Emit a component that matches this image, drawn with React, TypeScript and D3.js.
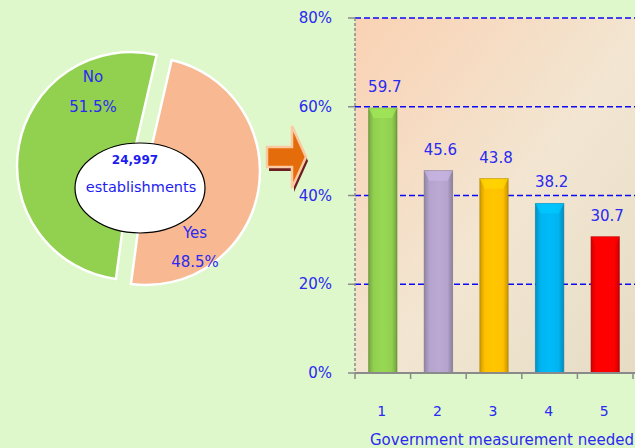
import { useEffect, useRef } from "react";
import * as d3 from "d3";

const pieLabels = ["Yes", "No"];
const pieValues = [48.5, 51.5];
const pieColors = ["#f8b892", "#92d050"];
const totalLabel = "24,997";
const totalUnit = "establishments";

const categories = ["1", "2", "3", "4", "5"];
const values = [59.7, 45.6, 43.8, 38.2, 30.7];
const barColors = ["#92d050", "#b4a3cc", "#ffc000", "#00b4f0", "#ff0000"];
const yTicks = [0, 20, 40, 60, 80];
const xTitle = "Government measurement needed";

const W = 635;
const H = 448;
const FONT = "'DejaVu Sans', Tahoma, sans-serif";
const BLUE = "#2a2af0";

export default function App() {
  const ref = useRef<SVGSVGElement>(null);

  useEffect(() => {
    const svg = d3.select(ref.current);
    svg.selectAll("*").remove();

    svg.append("rect").attr("width", W).attr("height", H).attr("fill", "#def7cb");

    const defs = svg.append("defs");

    // ---------- pie ----------
    const r = 114;
    const base = { x: 140, y: 168.5 };
    const explode = [
      { dx: 6, dy: 2.5 },
      { dx: -9, dy: -2.5 },
    ];
    const startA = (13 * Math.PI) / 180;
    const pie = d3
      .pie<number>()
      .sort(null)
      .startAngle(startA)
      .endAngle(startA + 2 * Math.PI);
    const arc = d3.arc<d3.PieArcDatum<number>>().innerRadius(0).outerRadius(r);

    const pg = svg.append("g");
    pie(pieValues).forEach((d, i) => {
      pg.append("path")
        .attr("transform", `translate(${base.x + explode[i].dx},${base.y + explode[i].dy})`)
        .attr("d", arc(d) as string)
        .attr("fill", pieColors[i])
        .attr("stroke", "#ffffff")
        .attr("stroke-width", 2.5);
    });

    const pieText = [
      { x: 195, y: 233, t: pieLabels[0] },
      { x: 195, y: 262, t: pieValues[0].toFixed(1) + "%" },
      { x: 93, y: 77, t: pieLabels[1] },
      { x: 93, y: 107, t: pieValues[1].toFixed(1) + "%" },
    ];
    pieText.forEach((p) => {
      pg.append("text")
        .attr("x", p.x)
        .attr("y", p.y)
        .attr("text-anchor", "middle")
        .attr("dominant-baseline", "central")
        .attr("font-family", FONT)
        .attr("font-size", 15)
        .attr("fill", BLUE)
        .text(p.t);
    });

    pg.append("ellipse")
      .attr("cx", 140)
      .attr("cy", 188)
      .attr("rx", 65)
      .attr("ry", 45)
      .attr("fill", "#ffffff")
      .attr("stroke", "#000000")
      .attr("stroke-width", 1.2);
    pg.append("text")
      .attr("x", 135)
      .attr("y", 160)
      .attr("text-anchor", "middle")
      .attr("dominant-baseline", "central")
      .attr("font-family", FONT)
      .attr("font-weight", "bold")
      .attr("font-size", 12)
      .attr("fill", "#1c1cf0")
      .text(totalLabel);
    pg.append("text")
      .attr("x", 141)
      .attr("y", 187)
      .attr("text-anchor", "middle")
      .attr("dominant-baseline", "central")
      .attr("font-family", FONT)
      .attr("font-size", 14.5)
      .attr("fill", "#1c1cf0")
      .text(totalUnit);

    // ---------- arrow ----------
    const arrow = "M267,147 L292,147 L292,126 L306,157 L292,188 L292,167 L267,167 Z";
    svg.append("path")
      .attr("d", arrow)
      .attr("transform", "translate(2,4)")
      .attr("fill", "#6b1f1f");
    svg.append("path")
      .attr("d", arrow)
      .attr("fill", "#e46c0a")
      .attr("stroke", "#fbc9a2")
      .attr("stroke-width", 2.5);

    // ---------- bar chart ----------
    const left = 355;
    const right = 633;
    const top = 18;
    const bottom = 373;

    const x = d3.scaleBand().domain(categories).range([left, right]).paddingInner(0.49).paddingOuter(0.245);
    const bandAll = d3.scaleBand().domain(categories).range([left, right]);
    const y = d3.scaleLinear().domain([0, 80]).range([bottom, top]);

    const bg = defs
      .append("linearGradient")
      .attr("id", "plotbg")
      .attr("x1", "0")
      .attr("y1", "0")
      .attr("x2", "1")
      .attr("y2", "1");
    bg.append("stop").attr("offset", "0").attr("stop-color", "#fad2b4");
    bg.append("stop").attr("offset", "0.55").attr("stop-color", "#f2e6d2");
    bg.append("stop").attr("offset", "1").attr("stop-color", "#e6dcc4");

    svg.append("rect")
      .attr("x", left)
      .attr("y", top)
      .attr("width", W - left)
      .attr("height", bottom - top)
      .attr("fill", "url(#plotbg)");

    // gridlines
    svg.append("g")
      .selectAll("line")
      .data(yTicks.filter((t) => t > 0))
      .join("line")
      .attr("x1", left)
      .attr("x2", W)
      .attr("y1", (d) => y(d))
      .attr("y2", (d) => y(d))
      .attr("stroke", "#0a0af5")
      .attr("stroke-width", 1.5)
      .attr("stroke-dasharray", "6,3");

    // y axis
    svg.append("line")
      .attr("x1", left)
      .attr("x2", left)
      .attr("y1", top)
      .attr("y2", bottom)
      .attr("stroke", "#8a8a8a")
      .attr("stroke-width", 1.5)
      .attr("stroke-dasharray", "3,2");
    const yAxis = svg.append("g");
    yAxis
      .selectAll("line")
      .data(yTicks)
      .join("line")
      .attr("x1", left - 7)
      .attr("x2", left)
      .attr("y1", (d) => y(d))
      .attr("y2", (d) => y(d))
      .attr("stroke", "#8a8a8a")
      .attr("stroke-width", 1.5);
    yAxis
      .selectAll("text")
      .data(yTicks)
      .join("text")
      .attr("x", left - 23)
      .attr("y", (d) => y(d))
      .attr("text-anchor", "end")
      .attr("dominant-baseline", "central")
      .attr("font-family", FONT)
      .attr("font-size", 15)
      .attr("fill", BLUE)
      .text((d) => d + "%");

    // bars
    barColors.forEach((c, i) => {
      const g = defs
        .append("linearGradient")
        .attr("id", "bar" + i)
        .attr("x1", "0")
        .attr("x2", "1")
        .attr("y1", "0")
        .attr("y2", "0");
      const cc = d3.color(c)!;
      g.append("stop").attr("offset", "0").attr("stop-color", cc.darker(0.6).formatHex());
      g.append("stop").attr("offset", "0.18").attr("stop-color", c);
      g.append("stop").attr("offset", "0.5").attr("stop-color", cc.brighter(0.1).formatHex());
      g.append("stop").attr("offset", "0.82").attr("stop-color", c);
      g.append("stop").attr("offset", "1").attr("stop-color", cc.darker(0.7).formatHex());
    });

    const bars = svg.append("g");
    values.forEach((v, i) => {
      const bx = x(categories[i])!;
      const bw = x.bandwidth();
      const by = y(v);
      const c = d3.color(barColors[i])!;
      bars.append("rect")
        .attr("x", bx)
        .attr("y", by)
        .attr("width", bw)
        .attr("height", bottom - by)
        .attr("fill", `url(#bar${i})`)
        .attr("stroke", c.darker(1.2).formatHex())
        .attr("stroke-opacity", 0.6)
        .attr("stroke-width", 1);
      // top bevel
      const b = 5;
      bars.append("path")
        .attr("d", `M${bx},${by} L${bx + bw},${by} L${bx + bw - b},${by + 2 * b} L${bx + b},${by + 2 * b} Z`)
        .attr("fill", c.brighter(0.3).formatHex())
        .attr("opacity", 0.75);
      bars.append("text")
        .attr("x", bx + bw / 2 + 2)
        .attr("y", by - 21)
        .attr("text-anchor", "middle")
        .attr("dominant-baseline", "central")
        .attr("font-family", FONT)
        .attr("font-size", 15)
        .attr("fill", BLUE)
        .text(v.toFixed(1));
    });

    // x axis
    svg.append("line")
      .attr("x1", left)
      .attr("x2", W)
      .attr("y1", bottom)
      .attr("y2", bottom)
      .attr("stroke", "#8a8a8a")
      .attr("stroke-width", 2);
    const xt = categories.map((c) => bandAll(c)!).concat([right]);
    svg.append("g")
      .selectAll("line")
      .data(xt)
      .join("line")
      .attr("x1", (d) => d)
      .attr("x2", (d) => d)
      .attr("y1", bottom)
      .attr("y2", bottom + 6)
      .attr("stroke", "#8a8a8a")
      .attr("stroke-width", 1.5);
    svg.append("g")
      .selectAll("text")
      .data(categories)
      .join("text")
      .attr("x", (d) => bandAll(d)! + bandAll.bandwidth() / 2 - 1)
      .attr("y", 411)
      .attr("text-anchor", "middle")
      .attr("dominant-baseline", "central")
      .attr("font-family", FONT)
      .attr("font-size", 14)
      .attr("fill", BLUE)
      .text((d) => d);

    svg.append("text")
      .attr("x", 370)
      .attr("y", 440)
      .attr("dominant-baseline", "central")
      .attr("font-family", FONT)
      .attr("font-size", 15)
      .attr("fill", BLUE)
      .text(xTitle);
  }, []);

  return (
    <svg
      ref={ref}
      width={W}
      height={H}
      style={{ position: "absolute", left: 0, top: 0, display: "block" }}
    />
  );
}
